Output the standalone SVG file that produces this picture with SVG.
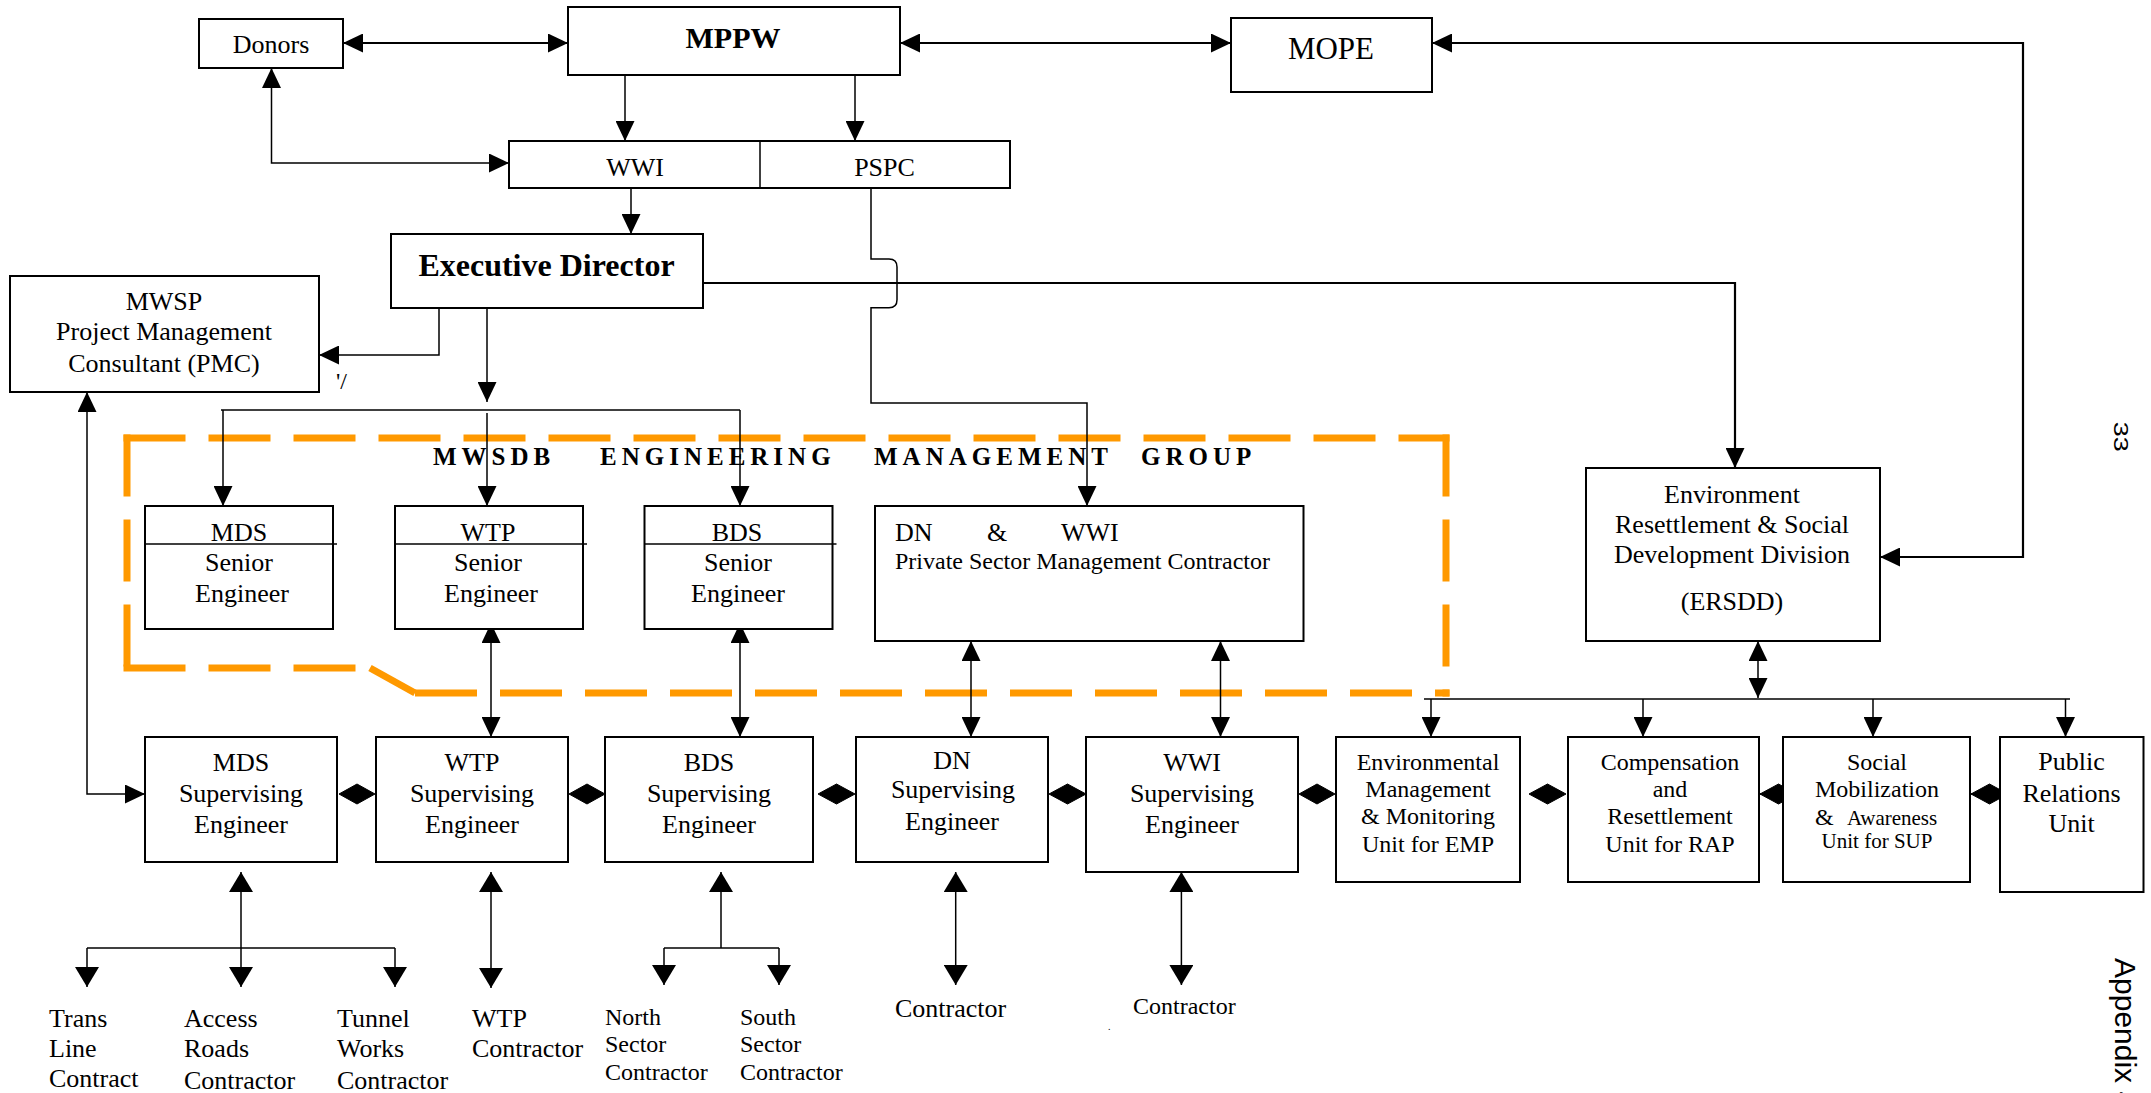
<svg xmlns="http://www.w3.org/2000/svg" width="2151" height="1093" viewBox="0 0 2151 1093">
<defs>
<style>
.b{fill:#fff;stroke:#000;stroke-width:2}
.t{font-family:"Liberation Serif","Times New Roman",serif;font-size:26px;text-anchor:middle;fill:#000}
.st{text-anchor:start}
.s24{font-size:24px}
.s21{font-size:21px}
.bold{font-weight:bold}
.c{fill:none;stroke:#000;stroke-width:1.5}
.c2{fill:none;stroke:#000;stroke-width:2.2}
.a{marker-end:url(#ah)}
.aa{marker-start:url(#ah);marker-end:url(#ah)}
.as{marker-start:url(#ah)}
.a2{marker-end:url(#ah2)}
.aa2{marker-start:url(#ah2);marker-end:url(#ah2)}
.as2{marker-start:url(#ah2)}
.dia{fill:#000;stroke:#000;stroke-width:1}
.og{fill:none;stroke:#ff9900;stroke-width:7;stroke-dasharray:62 23}
.ogs{fill:none;stroke:#ff9900;stroke-width:7}
.sans{font-family:"Liberation Sans",Arial,sans-serif;fill:#000}
.title{font-family:"Liberation Serif","Times New Roman",serif;font-size:25px;font-weight:bold;letter-spacing:5px;fill:#000}
</style>
<marker id="ah" viewBox="0 0 20 19" refX="20" refY="9.5" markerWidth="20" markerHeight="19" markerUnits="userSpaceOnUse" orient="auto-start-reverse"><path d="M0,0 L20,9.5 L0,19 z" fill="#000"/></marker>
<marker id="ah2" viewBox="0 0 20 24" refX="20" refY="12" markerWidth="20" markerHeight="24" markerUnits="userSpaceOnUse" orient="auto-start-reverse"><path d="M0,0 L20,12 L0,24 z" fill="#000"/></marker>
</defs>
<rect x="0" y="0" width="2151" height="1093" fill="#fff"/>

<g id="mgmt-group">
<line class="og" x1="123.5" y1="438" x2="1449.5" y2="438"/>
<line class="og" x1="127" y1="434.5" x2="127" y2="671.5"/>
<line class="og" x1="123.5" y1="668" x2="370" y2="668"/>
<line class="ogs" x1="370" y1="668" x2="415" y2="693"/>
<line class="og" x1="415" y1="693" x2="1449.5" y2="693"/>
<line class="og" x1="1446" y1="434.5" x2="1446" y2="696.5"/>
<text class="title" y="465"><tspan x="433" y="465">MWSDB</tspan><tspan x="600" y="465">ENGINEERING</tspan><tspan x="874" y="465">MANAGEMENT</tspan><tspan x="1141" y="465">GROUP</tspan></text>
</g>

<g id="connectors">
<line class="c2 aa" x1="343" y1="43" x2="568" y2="43"/>
<line class="c2 aa" x1="900" y1="43" x2="1231" y2="43"/>
<path class="c2 aa" d="M1432,43 H2023 V557 H1880"/>
<line class="c a" x1="625" y1="75" x2="625" y2="141"/>
<line class="c a" x1="855" y1="75" x2="855" y2="141"/>
<path class="c aa" d="M271.5,68 V163 H509"/>
<line class="c a" x1="631" y1="188" x2="631" y2="234"/>
<path class="c a" d="M871,188 V259 H889 Q897,259 897,267 V299.7 Q897,307.7 889,307.7 H871 V403 H1087 V506"/>
<path class="c2 a" d="M703,283 H1735 V468"/>
<path class="c a" d="M439,308 V355 H319"/>
<line class="c a" x1="487" y1="308" x2="487" y2="402"/>
<line class="c" x1="221" y1="410" x2="740" y2="410"/>
<line class="c a" x1="223" y1="410" x2="223" y2="506"/>
<line class="c a" x1="487" y1="413" x2="487" y2="506"/>
<line class="c a" x1="740" y1="410" x2="740" y2="506"/>
<path class="c aa" d="M87,392 V794 H145"/>
<line class="c aa" x1="491" y1="623" x2="491" y2="737"/>
<line class="c aa" x1="740" y1="623" x2="740" y2="737"/>
<line class="c aa" x1="971" y1="641" x2="971" y2="737"/>
<line class="c aa" x1="1220.5" y1="641" x2="1220.5" y2="737"/>
<line class="c aa" x1="1758" y1="641" x2="1758" y2="698"/>
<line class="c" x1="1424" y1="699" x2="2070" y2="699"/>
<line class="c a" x1="1431" y1="699" x2="1431" y2="737"/>
<line class="c a" x1="1643" y1="699" x2="1643" y2="737"/>
<line class="c a" x1="1873" y1="699" x2="1873" y2="737"/>
<line class="c a" x1="2065.5" y1="699" x2="2065.5" y2="737"/>
<polygon class="dia" points="339,794 357,784 375,794 357,804"/>
<polygon class="dia" points="569,794 587,784 605,794 587,804"/>
<polygon class="dia" points="818,794 836.5,784 855,794 836.5,804"/>
<polygon class="dia" points="1049,794 1067.5,784 1086,794 1067.5,804"/>
<polygon class="dia" points="1299,794 1317,784 1335,794 1317,804"/>
<polygon class="dia" points="1529,794 1547.5,784 1566,794 1547.5,804"/>
<line class="c" x1="1759" y1="794" x2="1783" y2="794"/>
<polygon class="dia" points="1760,794 1778.5,784 1797,794 1778.5,804"/>
<line class="c" x1="1970" y1="794" x2="2000" y2="794"/>
<polygon class="dia" points="1971,794 1989.5,784 2008,794 1989.5,804"/>
<line class="c as2" x1="241" y1="872" x2="241" y2="948"/>
<line class="c" x1="87" y1="948" x2="395" y2="948"/>
<line class="c a2" x1="87" y1="948" x2="87" y2="987"/>
<line class="c a2" x1="241" y1="948" x2="241" y2="987"/>
<line class="c a2" x1="395" y1="948" x2="395" y2="987"/>
<line class="c aa2" x1="491" y1="872" x2="491" y2="988"/>
<line class="c as2" x1="721" y1="872" x2="721" y2="948"/>
<line class="c" x1="664" y1="948" x2="779" y2="948"/>
<line class="c a2" x1="664" y1="948" x2="664" y2="985"/>
<line class="c a2" x1="779" y1="948" x2="779" y2="985"/>
<line class="c aa2" x1="955.7" y1="872" x2="955.7" y2="985"/>
<line class="c aa2" x1="1181.4" y1="872" x2="1181.4" y2="985"/>
</g>

<g id="donors"><rect class="b" x="199" y="19" width="144" height="49"/><text class="t" x="271" y="53">Donors</text></g>
<g id="mppw"><rect class="b" x="568" y="7" width="332" height="68"/><text class="t bold" x="733" y="48" style="font-size:30px">MPPW</text></g>
<g id="mope"><rect class="b" x="1231" y="18" width="201" height="74"/><text class="t" x="1331" y="59" style="font-size:31px">MOPE</text></g>
<g id="wwi-pspc"><rect class="b" x="509" y="141" width="501" height="47"/><line x1="760" y1="141" x2="760" y2="188" stroke="#000" stroke-width="1.5"/><text class="t" x="635" y="176">WWI</text><text class="t" x="884.5" y="176">PSPC</text></g>
<g id="exec-director"><rect class="b" x="391" y="234" width="312" height="74"/><text class="t bold" x="546.5" y="276" style="font-size:32px">Executive Director</text></g>
<g id="pmc"><rect class="b" x="10" y="276" width="309" height="116"/><text class="t" x="164" y="310">MWSP</text><text class="t" x="164" y="340">Project Management</text><text class="t" x="164" y="371.5">Consultant (PMC)</text></g>
<g id="mark1"><text class="t st s24" x="336" y="389">'/</text></g>

<g id="mds-senior"><rect class="b" x="145" y="506" width="188" height="123"/><line x1="145" y1="544" x2="337" y2="544" stroke="#000" stroke-width="1.3"/><text class="t" x="239" y="541">MDS</text><text class="t" x="239" y="571">Senior</text><text class="t" x="242" y="602">Engineer</text></g>
<g id="wtp-senior"><rect class="b" x="395" y="506" width="188" height="123"/><line x1="395" y1="544" x2="587" y2="544" stroke="#000" stroke-width="1.3"/><text class="t" x="488" y="541">WTP</text><text class="t" x="488" y="571">Senior</text><text class="t" x="491" y="602">Engineer</text></g>
<g id="bds-senior"><rect class="b" x="644.5" y="506" width="188" height="123"/><line x1="644.5" y1="544" x2="836.5" y2="544" stroke="#000" stroke-width="1.3"/><text class="t" x="737" y="541">BDS</text><text class="t" x="738" y="571">Senior</text><text class="t" x="738" y="602">Engineer</text></g>
<g id="dn-wwi-psmc"><rect class="b" x="875" y="506" width="428.5" height="135"/><text class="t st" x="895" y="541">DN</text><text class="t st" x="987" y="541">&amp;</text><text class="t st" x="1061" y="541">WWI</text><text class="t st s24" x="895" y="569" textLength="375" lengthAdjust="spacingAndGlyphs">Private Sector Management Contractor</text></g>
<g id="ersdd"><rect class="b" x="1586" y="468" width="294" height="173"/><text class="t" x="1732" y="503">Environment</text><text class="t" x="1732" y="533">Resettlement &amp; Social</text><text class="t" x="1732" y="562.5">Development Division</text><text class="t" x="1732" y="610">(ERSDD)</text></g>

<g id="mds-sup"><rect class="b" x="145" y="737" width="192" height="125"/><text class="t" x="241" y="771">MDS</text><text class="t" x="241" y="802">Supervising</text><text class="t" x="241" y="833">Engineer</text></g>
<g id="wtp-sup"><rect class="b" x="376" y="737" width="192" height="125"/><text class="t" x="472" y="771">WTP</text><text class="t" x="472" y="802">Supervising</text><text class="t" x="472" y="833">Engineer</text></g>
<g id="bds-sup"><rect class="b" x="605" y="737" width="208" height="125"/><text class="t" x="709" y="771">BDS</text><text class="t" x="709" y="802">Supervising</text><text class="t" x="709" y="833">Engineer</text></g>
<g id="dn-sup"><rect class="b" x="856" y="737" width="192" height="125"/><text class="t" x="952" y="769">DN</text><text class="t" x="953" y="798">Supervising</text><text class="t" x="952" y="830">Engineer</text></g>
<g id="wwi-sup"><rect class="b" x="1086" y="737" width="212" height="135"/><text class="t" x="1192" y="771">WWI</text><text class="t" x="1192" y="802">Supervising</text><text class="t" x="1192" y="833">Engineer</text></g>
<g id="emp"><rect class="b" x="1336" y="737" width="184" height="145"/><text class="t s24" x="1428" y="770">Environmental</text><text class="t s24" x="1428" y="797">Management</text><text class="t s24" x="1428" y="824">&amp; Monitoring</text><text class="t s24" x="1428" y="852">Unit for EMP</text></g>
<g id="rap"><rect class="b" x="1568" y="737" width="191" height="145"/><text class="t s24" x="1670" y="770">Compensation</text><text class="t s24" x="1670" y="797">and</text><text class="t s24" x="1670" y="824">Resettlement</text><text class="t s24" x="1670" y="852">Unit for RAP</text></g>
<g id="sup"><rect class="b" x="1783" y="737" width="187" height="145"/><text class="t s24" x="1877" y="770">Social</text><text class="t s24" x="1877" y="797">Mobilization</text><text class="t st s24" x="1815" y="825">&amp;</text><text class="t st s21" x="1847" y="825">Awareness</text><text class="t s21" x="1877" y="848">Unit for SUP</text></g>
<g id="pr"><rect class="b" x="2000" y="737" width="143.5" height="155"/><text class="t" x="2071.5" y="770">Public</text><text class="t" x="2071.5" y="802">Relations</text><text class="t" x="2071.5" y="832">Unit</text></g>

<g id="contractors">
<text class="t st" x="49" y="1027">Trans</text><text class="t st" x="49" y="1057">Line</text><text class="t st" x="49" y="1087">Contract</text>
<text class="t st" x="184" y="1027">Access</text><text class="t st" x="184" y="1057">Roads</text><text class="t st" x="184" y="1089">Contractor</text>
<text class="t st" x="337" y="1027">Tunnel</text><text class="t st" x="337" y="1057">Works</text><text class="t st" x="337" y="1089">Contractor</text>
<text class="t st" x="472" y="1027">WTP</text><text class="t st" x="472" y="1057">Contractor</text>
<text class="t st s24" x="605" y="1025">North</text><text class="t st s24" x="605" y="1052">Sector</text><text class="t st s24" x="605" y="1080">Contractor</text>
<text class="t st s24" x="740" y="1025">South</text><text class="t st s24" x="740" y="1052">Sector</text><text class="t st s24" x="740" y="1080">Contractor</text>
<text class="t st" x="895" y="1017">Contractor</text>
<text class="t st s24" x="1133" y="1014">Contractor</text>
<text class="t st" x="1108" y="1030" style="font-size:10px">.</text>
</g>

<g id="page-marks">
<text class="sans" transform="translate(2114,421.7) rotate(90)" font-size="20" textLength="30" lengthAdjust="spacingAndGlyphs">33</text>
<text class="sans" transform="translate(2115,958) rotate(90)" font-size="30">Appendix 4</text>
</g>
</svg>
